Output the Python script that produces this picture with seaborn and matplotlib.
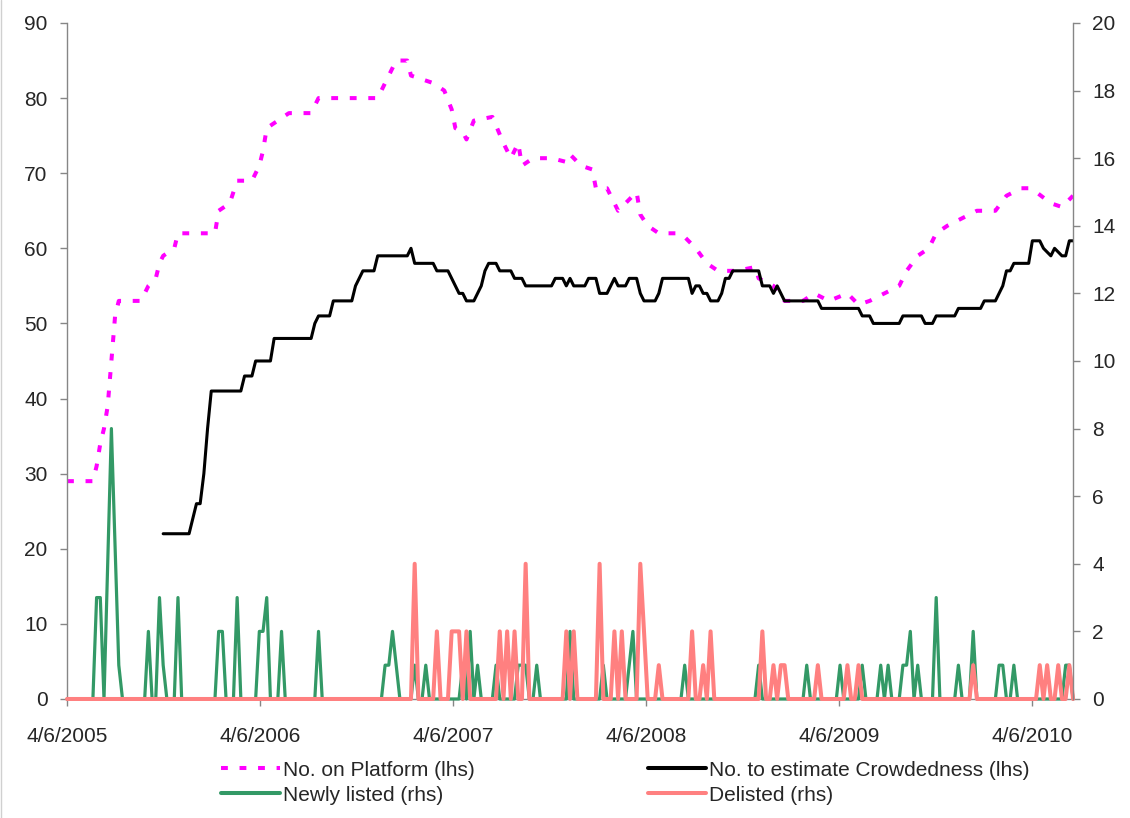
import numpy as np
import pandas as pd
import matplotlib
matplotlib.use("Agg")
import matplotlib.pyplot as plt
from matplotlib.lines import Line2D
import seaborn as sns

# weekly observations starting 4/6/2005
start_date = "2005-04-06"
n_weeks = 273

# (week index, value)
platform_pts = [
    (0, 29), (7, 29), (8, 31), (9, 34), (10, 36), (11, 39), (12, 45), (13, 51), (14, 53),
    (20, 53), (22, 55), (24, 56), (25, 58), (26, 59), (29, 60), (30, 62), (40, 62), (41, 65),
    (44, 66), (46, 69), (50, 69), (52, 71), (53, 73), (54, 76), (57, 77), (60, 78), (66, 78),
    (68, 80), (84, 80), (86, 82), (88, 84), (89, 85), (92, 85), (93, 83), (96, 82.5), (99, 82),
    (102, 81), (104, 78.5), (105, 76), (107, 75.5), (108, 74.5), (110, 77), (115, 77.5),
    (118, 74), (120, 72), (122, 74), (123, 71), (126, 72), (131, 72), (135, 71.5), (136, 72.5),
    (139, 71), (142, 70.5), (143, 68), (146, 68), (148, 66), (149, 65), (152, 66.5), (154, 67.5),
    (155, 64.5), (157, 63), (160, 62), (165, 62), (167, 61.5), (170, 60), (173, 58), (176, 57),
    (181, 57), (186, 57.5), (187, 56), (191, 55), (194, 53), (199, 53), (202, 54), (206, 53),
    (211, 54), (214, 52.5), (217, 53), (221, 54), (225, 55), (227, 57), (230, 59), (233, 60),
    (235, 62), (238, 63), (242, 64), (246, 65), (251, 65), (254, 67), (258, 68), (260, 68),
    (262, 67.5), (266, 66), (269, 65.5), (272, 67),
]

crowd_pts = [
    (26, 22), (33, 22), (34, 24), (35, 26), (36, 26), (37, 30), (38, 36), (39, 41), (47, 41),
    (48, 43), (50, 43), (51, 45), (55, 45), (56, 48), (66, 48), (67, 50), (68, 51), (71, 51),
    (72, 53), (77, 53), (78, 55), (80, 57), (83, 57), (84, 59), (92, 59), (93, 60), (94, 58),
    (99, 58), (100, 57), (103, 57), (104, 56), (105, 55), (106, 54), (107, 54), (108, 53),
    (110, 53), (112, 55), (113, 57), (114, 58), (116, 58), (117, 57), (120, 57), (121, 56),
    (123, 56), (124, 55), (131, 55), (132, 56), (134, 56), (135, 55), (136, 56), (137, 55),
    (140, 55), (141, 56), (143, 56), (144, 54), (146, 54), (147, 55), (148, 56), (149, 55),
    (151, 55), (152, 56), (154, 56), (155, 54), (156, 53), (159, 53), (160, 54), (161, 56),
    (168, 56), (169, 54), (170, 55), (171, 55), (172, 54), (173, 54), (174, 53), (176, 53),
    (177, 54), (178, 56), (179, 56), (180, 57), (187, 57), (188, 55), (190, 55), (191, 54),
    (192, 55), (193, 54), (194, 53), (203, 53), (204, 52), (214, 52), (215, 51), (217, 51),
    (218, 50), (225, 50), (226, 51), (231, 51), (232, 50), (234, 50), (235, 51), (240, 51),
    (241, 52), (247, 52), (248, 53), (251, 53), (252, 54), (253, 55), (254, 57), (255, 57),
    (256, 58), (260, 58), (261, 61), (263, 61), (264, 60), (266, 59), (267, 60), (269, 59),
    (270, 59), (271, 61), (272, 61),
]

# non-zero weeks only; every other week is 0
newly_events = [
    (8, 3), (9, 3), (11, 4), (12, 8), (13, 4.5), (14, 1), (22, 2), (25, 3), (26, 1), (30, 3),
    (41, 2), (42, 2), (46, 3), (52, 2), (53, 2), (54, 3), (58, 2), (68, 2), (86, 1), (87, 1),
    (88, 2), (89, 1), (94, 1), (97, 1), (107, 1), (109, 2), (111, 1), (116, 1), (122, 1),
    (123, 1), (124, 1), (127, 1), (136, 2), (145, 1), (152, 1), (153, 2), (167, 1), (187, 1),
    (200, 1), (209, 1), (215, 1), (220, 1), (222, 1), (226, 1), (227, 1), (228, 2), (230, 1),
    (235, 3), (241, 1), (245, 2), (252, 1), (253, 1), (256, 1), (270, 1), (271, 1),
]

delisted_events = [
    (94, 4), (100, 2), (104, 2), (105, 2), (106, 2), (108, 2), (117, 2), (119, 2), (121, 2),
    (124, 4), (135, 2), (137, 2), (144, 4), (148, 2), (150, 2), (155, 4), (156, 2), (160, 1),
    (169, 2), (172, 1), (174, 2), (188, 2), (191, 1), (193, 1), (194, 1), (203, 1), (211, 1),
    (214, 1), (245, 1), (263, 1), (265, 1), (268, 1), (271, 1),
]

tick_labels = ["4/6/2005", "4/6/2006", "4/6/2007", "4/6/2008", "4/6/2009", "4/6/2010"]

weeks = pd.date_range(start_date, periods=n_weeks, freq="7D")


def pts_frame(pts):
    wk, val = zip(*pts)
    return pd.DataFrame({"date": weeks[list(wk)], "value": val})


def events_frame(events):
    v = np.zeros(n_weeks)
    for w, val in events:
        v[w] = val
    return pd.DataFrame({"date": weeks, "value": v})


platform = pts_frame(platform_pts)
crowd = pts_frame(crowd_pts)
newly = events_frame(newly_events)
delisted = events_frame(delisted_events)

sns.set_style("white")
plt.rcParams["font.family"] = ["Liberation Sans", "DejaVu Sans"]

fig = plt.figure(figsize=(11.3, 8.18), dpi=100)
ax = fig.add_axes([0.0593, 0.1455, 0.8903, 0.8264])
ax2 = ax.twinx()

sns.lineplot(data=platform, x="date", y="value", ax=ax, color="#FF00FF", linewidth=2.9,
             linestyle=(0, (1.7, 2.9)), legend=False)
sns.lineplot(data=crowd, x="date", y="value", ax=ax, color="black", linewidth=2.2, legend=False)
sns.lineplot(data=newly, x="date", y="value", ax=ax2, color="#339966", linewidth=2.3,
             legend=False, clip_on=False)
sns.lineplot(data=delisted, x="date", y="value", ax=ax2, color="#FF8080", linewidth=2.9,
             legend=False, clip_on=False)

gray = "#868686"
ax.set_xlim(weeks[0], weeks[-1])
ax.set_ylim(0, 90)
ax2.set_ylim(0, 20)
ax.set_yticks(range(0, 91, 10))
ax2.set_yticks(range(0, 21, 2))
ax.set_xticks(pd.to_datetime(tick_labels, format="%m/%d/%Y"))
ax.set_xticklabels(tick_labels)
ax.set_xlabel("")
ax.set_ylabel("")
ax2.set_ylabel("")

for a in (ax, ax2):
    for s in a.spines.values():
        s.set_visible(False)
    a.grid(False)
ax.spines["left"].set_visible(True)
ax.spines["bottom"].set_visible(True)
ax2.spines["right"].set_visible(True)
for s in (ax.spines["left"], ax.spines["bottom"], ax2.spines["right"]):
    s.set_color(gray)
    s.set_linewidth(1.0)

ax.tick_params(axis="y", direction="out", length=5, width=1, color=gray, labelsize=15, pad=9, left=True)
ax.tick_params(axis="x", direction="out", length=5, width=1, color=gray, labelsize=15, pad=15, bottom=True)
ax2.tick_params(axis="y", direction="out", length=5, width=1, color=gray, labelsize=15, pad=9, right=True)

handles = [
    Line2D([], [], color="#FF00FF", linewidth=2.9, linestyle=(0, (1.7, 2.9))),
    Line2D([], [], color="#339966", linewidth=2.9),
    Line2D([], [], color="black", linewidth=2.9),
    Line2D([], [], color="#FF8080", linewidth=2.9),
]
labels = ["No. on Platform (lhs)", "Newly listed (rhs)",
          "No. to estimate Crowdedness (lhs)", "Delisted (rhs)"]
fig.legend(handles, labels, loc="upper left", bbox_to_anchor=(0.1867, 0.0830), ncol=2,
           frameon=False, fontsize=15, borderpad=0, handlelength=2.8, handletextpad=0.15,
           columnspacing=8.3, labelspacing=0.3)

fig.add_artist(Line2D([0.0005, 0.0005], [0, 1], transform=fig.transFigure, color="#D0D0D0", linewidth=1))

fig.savefig("out.png", dpi=100)
plt.close(fig)
